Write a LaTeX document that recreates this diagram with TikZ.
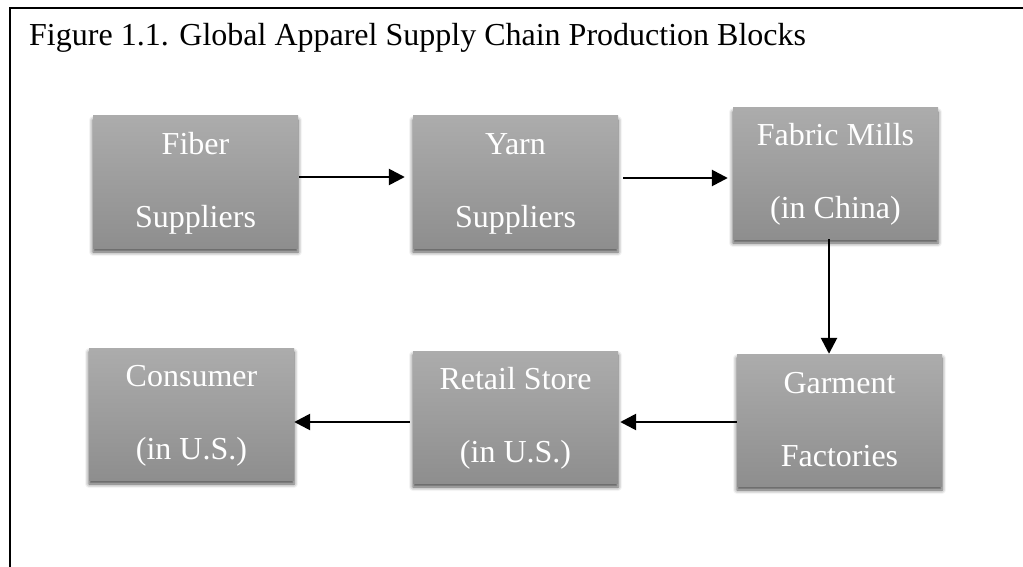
\documentclass[tikz,border=0pt]{standalone}
\usepackage{fontspec}
\setmainfont{Liberation Serif}
\usetikzlibrary{arrows.meta,shadows.blur,calc}
\definecolor{boxtop}{RGB}{172,172,172}
\definecolor{boxbot}{RGB}{142,142,142}
\tikzset{
  block/.style={rectangle, minimum width=205pt, minimum height=132pt, inner sep=0pt,
    top color=boxtop, bottom color=boxbot, draw=none,
    blur shadow={shadow xshift=0pt, shadow yshift=-4pt, shadow blur radius=4pt, shadow opacity=70},
    text=white, align=center, font=\fontsize{32}{73}\selectfont},
  flow/.style={line width=2.6pt, -{Triangle[length=16pt,width=16pt]}},
  frame/.style={line width=2.6pt, black}
}
\newcommand{\lineA}[1]{\rule{0pt}{24pt}#1}
\newcommand{\lineB}[1]{#1\rule[-5pt]{0pt}{5pt}}
\begin{document}
\begin{tikzpicture}[x=1pt,y=-1pt]
\useasboundingbox (0,0) rectangle (1023,567);
\coordinate (fl) at (10,567);
\coordinate (ftl) at (10,8);
\coordinate (ftr) at (1023,8);
\draw[frame] (fl) -- (ftl) -- (ftr);
\node[anchor=base west, font=\fontsize{32}{38}\selectfont, inner sep=0pt] (title) at (29,46)
  {Figure 1.1. Global Apparel Supply Chain Production Blocks};

\node[block] (fiber) at (195.5,182) {\lineA{Fiber}\\\lineB{Suppliers}};
\node[block] (yarn) at (515.5,182) {\lineA{Yarn}\\\lineB{Suppliers}};
\node[block, minimum height=131pt] (fabric) at (835.5,173.5) {\lineA{Fabric Mills}\\\lineB{(in China)}};
\node[block] (garment) at (839.5,420) {\lineA{Garment}\\\lineB{Factories}};
\node[block] (retail) at (515.5,417) {\lineA{Retail Store}\\\lineB{(in U.S.)}};
\node[block] (consumer) at (191.5,414) {\lineA{Consumer}\\\lineB{(in U.S.)}};

\draw[flow] ([xshift=1pt,yshift=5pt]fiber.east) -- ([xshift=-8pt,yshift=5pt]fiber.east -| yarn.west);
\draw[flow] ([xshift=5pt,yshift=4pt]yarn.east) -- ([xshift=-5pt,yshift=4pt]yarn.east -| fabric.west);
\draw[flow] ([xshift=-6.5pt]fabric.south) -- ([xshift=-6.5pt]fabric.south |- garment.north);
\draw[flow] ([yshift=-2pt]garment.west) -- ([xshift=2pt,yshift=-2pt]garment.west -| retail.east);
\draw[flow] ([xshift=-3pt,yshift=-5pt]retail.west) -- ([yshift=-5pt]retail.west -| consumer.east);
\end{tikzpicture}
\end{document}
